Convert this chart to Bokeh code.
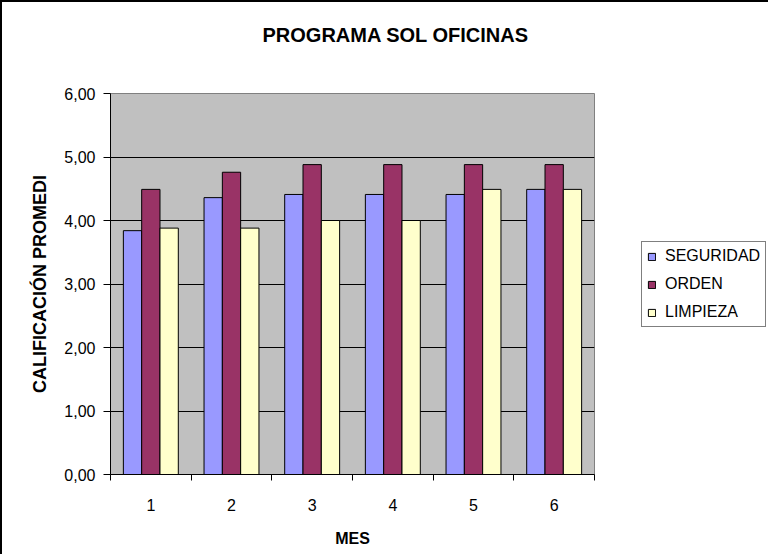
from bokeh.plotting import figure
from bokeh.models import ColumnDataSource, FixedTicker, Legend, LegendItem, Range1d, Title
from bokeh.embed import file_html
from bokeh.resources import INLINE
from bokeh.transform import dodge

# ---- data ----
meses = ["1", "2", "3", "4", "5", "6"]
seguridad = [3.84, 4.36, 4.41, 4.41, 4.41, 4.49]
orden = [4.49, 4.76, 4.88, 4.88, 4.88, 4.88]
limpieza = [3.88, 3.88, 4.00, 4.00, 4.49, 4.49]
series_names = ["SEGURIDAD", "ORDEN", "LIMPIEZA"]
y_ticks = [0, 1, 2, 3, 4, 5, 6]
y_tick_labels = ["0,00", "1,00", "2,00", "3,00", "4,00", "5,00", "6,00"]

colors = ["#9999FF", "#993366", "#FFFFCC"]
FONT = "Liberation Sans"

x_pos = [i + 0.5 for i in range(len(meses))]
source = ColumnDataSource(dict(x=x_pos, seguridad=seguridad, orden=orden, limpieza=limpieza))

p = figure(frame_width=484, frame_height=381,
           x_range=Range1d(0, len(meses)), y_range=Range1d(0, 6),
           output_backend="svg", toolbar_location=None,
           min_border_left=108, min_border_right=150,
           min_border_top=91, min_border_bottom=80)

p.background_fill_color = "#C0C0C0"
p.border_fill_color = "white"
p.outline_line_color = "#808080"
p.outline_line_width = 1
p.styles = {"border-left": "2px solid #000000", "border-top": "2px solid #000000"}

bw = 0.227
offsets = [-bw, 0.0, bw]
fields = ["seguridad", "orden", "limpieza"]
renderers = []
for f, off, c in zip(fields, offsets, colors):
    r = p.vbar(x=dodge("x", off), top=f, width=bw, bottom=0, source=source,
               fill_color=c, line_color="black", line_width=1)
    renderers.append(r)

# grid
p.xgrid.visible = False
p.ygrid.ticker = FixedTicker(ticks=y_ticks)
p.ygrid.grid_line_color = "black"
p.ygrid.grid_line_width = 1

# x axis
xa = p.xaxis[0]
xa.ticker = FixedTicker(ticks=x_pos, minor_ticks=list(range(len(meses) + 1)))
xa.major_label_overrides = {x: m for x, m in zip(x_pos, meses)}
xa.major_tick_line_color = None
xa.major_tick_out = 0
xa.major_tick_in = 0
xa.minor_tick_line_color = "black"
xa.minor_tick_out = 6
xa.minor_tick_in = 0
xa.major_label_standoff = 18
xa.major_label_text_font = FONT
xa.major_label_text_font_size = "16px"
xa.major_label_text_color = "black"
xa.axis_line_color = "black"
xa.axis_label = "MES"
xa.axis_label_text_font = FONT
xa.axis_label_text_font_size = "16px"
xa.axis_label_text_font_style = "bold"
xa.axis_label_text_color = "black"
xa.axis_label_standoff = 16

# y axis
ya = p.yaxis[0]
ya.ticker = FixedTicker(ticks=y_ticks)
ya.major_label_overrides = {t: s for t, s in zip(y_ticks, y_tick_labels)}
ya.major_tick_out = 7
ya.major_tick_in = 0
ya.major_tick_line_color = "black"
ya.minor_tick_line_color = None
ya.major_label_standoff = 8
ya.major_label_text_font = FONT
ya.major_label_text_font_size = "16px"
ya.major_label_text_color = "black"
ya.axis_line_color = "black"
ya.axis_label = "CALIFICACIÓN PROMEDI"
ya.axis_label_text_font = FONT
ya.axis_label_text_font_size = "18px"
ya.axis_label_text_font_style = "bold"
ya.axis_label_text_color = "black"
ya.axis_label_standoff = 11

# title (with an invisible spacer between title and frame)
p.title = Title(text="PROGRAMA SOL OFICINAS", align="left", offset=152,
                text_font=FONT, text_font_size="20px", text_font_style="bold",
                text_color="black", standoff=4)
p.add_layout(Title(text=" ", text_font_size="10px", standoff=33), "above")

# legend
legend = Legend(items=[LegendItem(label=n, renderers=[r]) for n, r in zip(series_names, renderers)],
                location=(47, 147))
legend.border_line_color = "black"
legend.border_line_width = 1
legend.background_fill_color = "white"
legend.background_fill_alpha = 1
legend.label_text_font = FONT
legend.label_text_font_size = "16px"
legend.label_text_color = "black"
legend.glyph_width = 9
legend.glyph_height = 9
legend.label_height = 18
legend.spacing = 10
legend.padding = 5
legend.margin = 0
legend.label_standoff = 9
p.add_layout(legend, "right")

open("out.html", "w").write(file_html(p, INLINE))
